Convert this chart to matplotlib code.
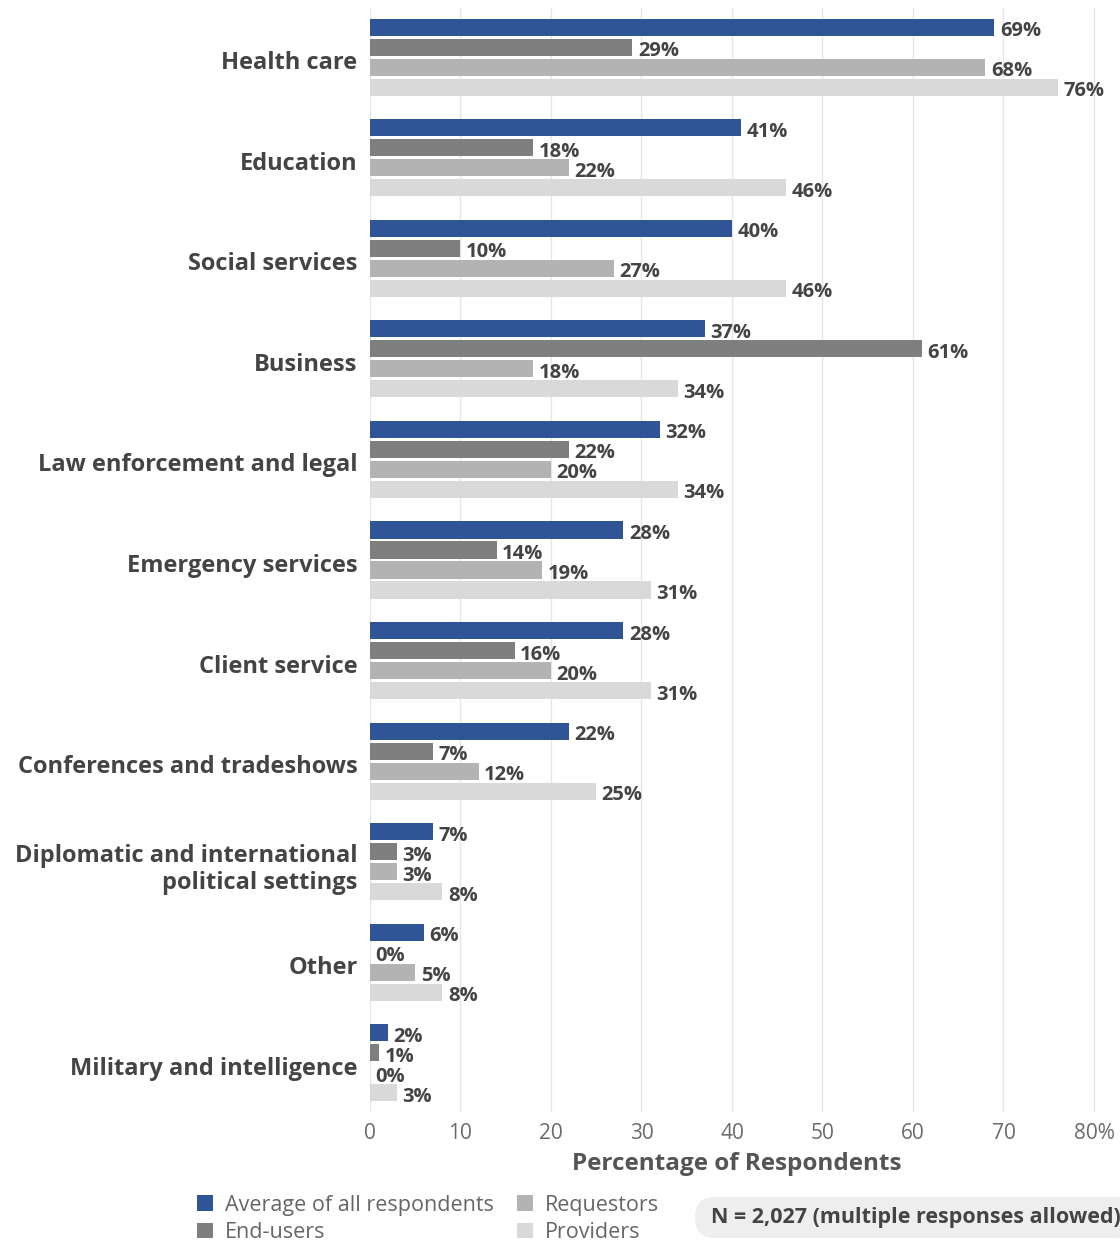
import matplotlib
matplotlib.use('Agg')
import matplotlib.pyplot as plt
from matplotlib.patches import FancyBboxPatch, Patch
import numpy as np

categories = ['Health care', 'Education', 'Social services', 'Business',
              'Law enforcement and legal', 'Emergency services', 'Client service',
              'Conferences and tradeshows',
              'Diplomatic and international\npolitical settings',
              'Other', 'Military and intelligence']
series_names = ['Average of all respondents', 'End-users', 'Requestors', 'Providers']
average_all = [69, 41, 40, 37, 32, 28, 28, 22, 7, 6, 2]
end_users = [29, 18, 10, 61, 22, 14, 16, 7, 3, 0, 1]
requestors = [68, 22, 27, 18, 20, 19, 20, 12, 3, 5, 0]
providers = [76, 46, 46, 34, 34, 31, 31, 25, 8, 8, 3]
x_ticks = [0, 10, 20, 30, 40, 50, 60, 70, 80]
x_tick_labels = ['0', '10', '20', '30', '40', '50', '60', '70', '80%']
sample_note = 'N = 2,027 (multiple responses allowed)'

bar_colors = ['#2f5597', '#7f7f7f', '#b3b3b3', '#d9d9d9']
text_dark = '#444444'

plt.rcParams['font.family'] = ['Open Sans', 'DejaVu Sans']

fig = plt.figure(figsize=(11.2, 12.42), dpi=100)
ax = fig.add_axes([370 / 1120, 1 - 1112 / 1242, 733 / 1120, (1112 - 8) / 1242])

y = np.arange(len(categories))
pitch = 0.199
bar_h = 0.17
all_series = [average_all, end_users, requestors, providers]
for k, (vals, col) in enumerate(zip(all_series, bar_colors)):
    ypos = y + (k - 1.5) * pitch
    ax.barh(ypos, vals, height=bar_h, color=col, zorder=3)
    for yy, v in zip(ypos, vals):
        # labels sit a touch below the bar centre
        ax.text(v + 0.6, yy + 0.04, f'{v}%', ha='left', va='center',
                fontsize=14.5, fontweight='bold', color=text_dark, zorder=4)

ax.set_xlim(0, 81)
ax.set_ylim(len(categories) - 1 + 0.49, -0.49)
ax.set_xticks(x_ticks)
ax.set_xticklabels(x_tick_labels, fontsize=15, color='#6b6b6b')
ax.set_yticks(y + 0.03)
ax.set_yticklabels(categories, fontsize=17, fontweight='bold', color=text_dark,
                   linespacing=1.2)
ax.tick_params(axis='both', length=0)
ax.tick_params(axis='y', pad=9)
ax.tick_params(axis='x', pad=8)
ax.grid(axis='x', color='#e6e6e6', linewidth=1, zorder=0)
for s in ax.spines.values():
    s.set_visible(False)
ax.set_xlabel('Percentage of Respondents', fontsize=17.5, fontweight='bold',
              color='#555555', labelpad=6)

handles = [Patch(facecolor=c, edgecolor='none') for c in bar_colors]
fig.legend(handles, series_names, loc='upper left', bbox_to_anchor=(188 / 1120, 1 - 1186 / 1242),
           ncol=2, frameon=False, fontsize=15.5, labelcolor='#666666',
           handlelength=0.75, handleheight=0.75, handletextpad=0.55,
           columnspacing=1.1, labelspacing=0.3, borderaxespad=0)

box = FancyBboxPatch((695 / 1120, 1 - 1238 / 1242), 440 / 1120, 41 / 1242,
                     boxstyle='round,pad=0,rounding_size=0.018',
                     transform=fig.transFigure, facecolor='#eeeeee',
                     edgecolor='none', mutation_aspect=1120 / 1242)
fig.add_artist(box)
fig.text(711 / 1120, 1 - 1217 / 1242, sample_note, ha='left', va='center',
         fontsize=15.5, fontweight='bold', color=text_dark)

fig.savefig('out.png', dpi=100)
